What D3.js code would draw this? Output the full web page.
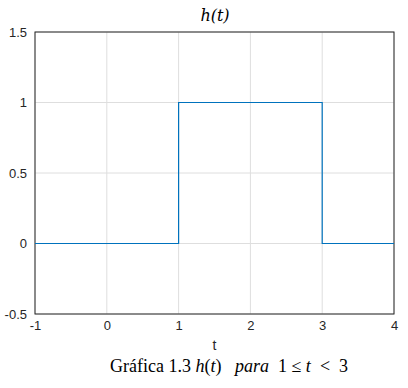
<!DOCTYPE html>
<html>
<head>
<meta charset="utf-8">
<script src="https://cdn.jsdelivr.net/npm/d3@7"></script>
<style>
  body { margin: 0; background: #fff; }
  svg { display: block; }
</style>
</head>
<body>
<svg id="chart" width="408" height="388"></svg>
<script>
// step signal h(t)
const tValues = [-1, 1, 1, 3, 3, 4]
const hValues = [0, 0, 1, 1, 0, 0]
const xTicks = [-1, 0, 1, 2, 3, 4]
const yTicks = [-0.5, 0, 0.5, 1, 1.5]

const margin = { top: 32, right: 14, bottom: 74, left: 35 }
const width = 408 - margin.left - margin.right
const height = 388 - margin.top - margin.bottom

const svg = d3.select('#chart')
const g = svg.append('g')
  .attr('transform', `translate(${margin.left},${margin.top})`)

const x = d3.scaleLinear().domain([-1, 4]).range([0, width])
const y = d3.scaleLinear().domain([-0.5, 1.5]).range([height, 0])

// plain hyphen for negatives, like the original
const fmt = d => String(d)

// grid
g.append('g')
  .selectAll('line')
  .data(xTicks)
  .enter()
  .append('line')
  .attr('x1', d => x(d)).attr('x2', d => x(d))
  .attr('y1', 0).attr('y2', height)
  .style('stroke', '#dedede')
g.append('g')
  .selectAll('line')
  .data(yTicks)
  .enter()
  .append('line')
  .attr('x1', 0).attr('x2', width)
  .attr('y1', d => y(d)).attr('y2', d => y(d))
  .style('stroke', '#dedede')

// axes
const xAxis = g.append('g')
  .attr('transform', `translate(0,${height})`)
  .call(d3.axisBottom(x).tickValues(xTicks).tickSize(0).tickPadding(7).tickFormat(fmt))
const yAxis = g.append('g')
  .call(d3.axisLeft(y).tickValues(yTicks).tickSize(0).tickPadding(8).tickFormat(fmt))

for (const ax of [xAxis, yAxis]) {
  ax.select('.domain').remove()
  ax.selectAll('text')
    .style('font-family', 'Liberation Sans, Arial, sans-serif')
    .style('font-size', '13px')
    .style('fill', '#262626')
}

// box
g.append('rect')
  .attr('width', width)
  .attr('height', height)
  .style('fill', 'none')
  .style('stroke', '#262626')
  .style('stroke-width', 1)

// signal
const line = d3.line()
  .x((d, i) => x(tValues[i]))
  .y(d => y(d))

g.append('path')
  .datum(hValues)
  .attr('d', line)
  .style('fill', 'none')
  .style('stroke', '#0072BD')
  .style('stroke-width', 1.2)

// labels
svg.append('text')
  .attr('x', margin.left + width / 2 + 0.5)
  .attr('y', 21)
  .attr('text-anchor', 'middle')
  .style('font-family', 'DejaVu Serif, serif')
  .style('font-style', 'italic')
  .style('font-size', '16px')
  .text('h(t)')

svg.append('text')
  .attr('x', margin.left + width / 2)
  .attr('y', 350)
  .attr('text-anchor', 'middle')
  .style('font-family', 'Liberation Sans, Arial, sans-serif')
  .style('font-size', '14px')
  .style('fill', '#262626')
  .text('t')

const cap = svg.append('text')
  .attr('x', 229)
  .attr('y', 372)
  .attr('text-anchor', 'middle')
  .style('white-space', 'pre')
  .style('font-family', 'Liberation Serif, serif')
  .style('font-size', '18px')
cap.append('tspan').text('Gráfica 1.3 ')
cap.append('tspan').style('font-style', 'italic').text('h')
cap.append('tspan').text('(')
cap.append('tspan').style('font-style', 'italic').text('t')
cap.append('tspan').text(')   ')
cap.append('tspan').style('font-style', 'italic').text('para')
cap.append('tspan').text('  1 ≤ ')
cap.append('tspan').style('font-style', 'italic').text('t')
cap.append('tspan').text('  <  3')
</script>
</body>
</html>
